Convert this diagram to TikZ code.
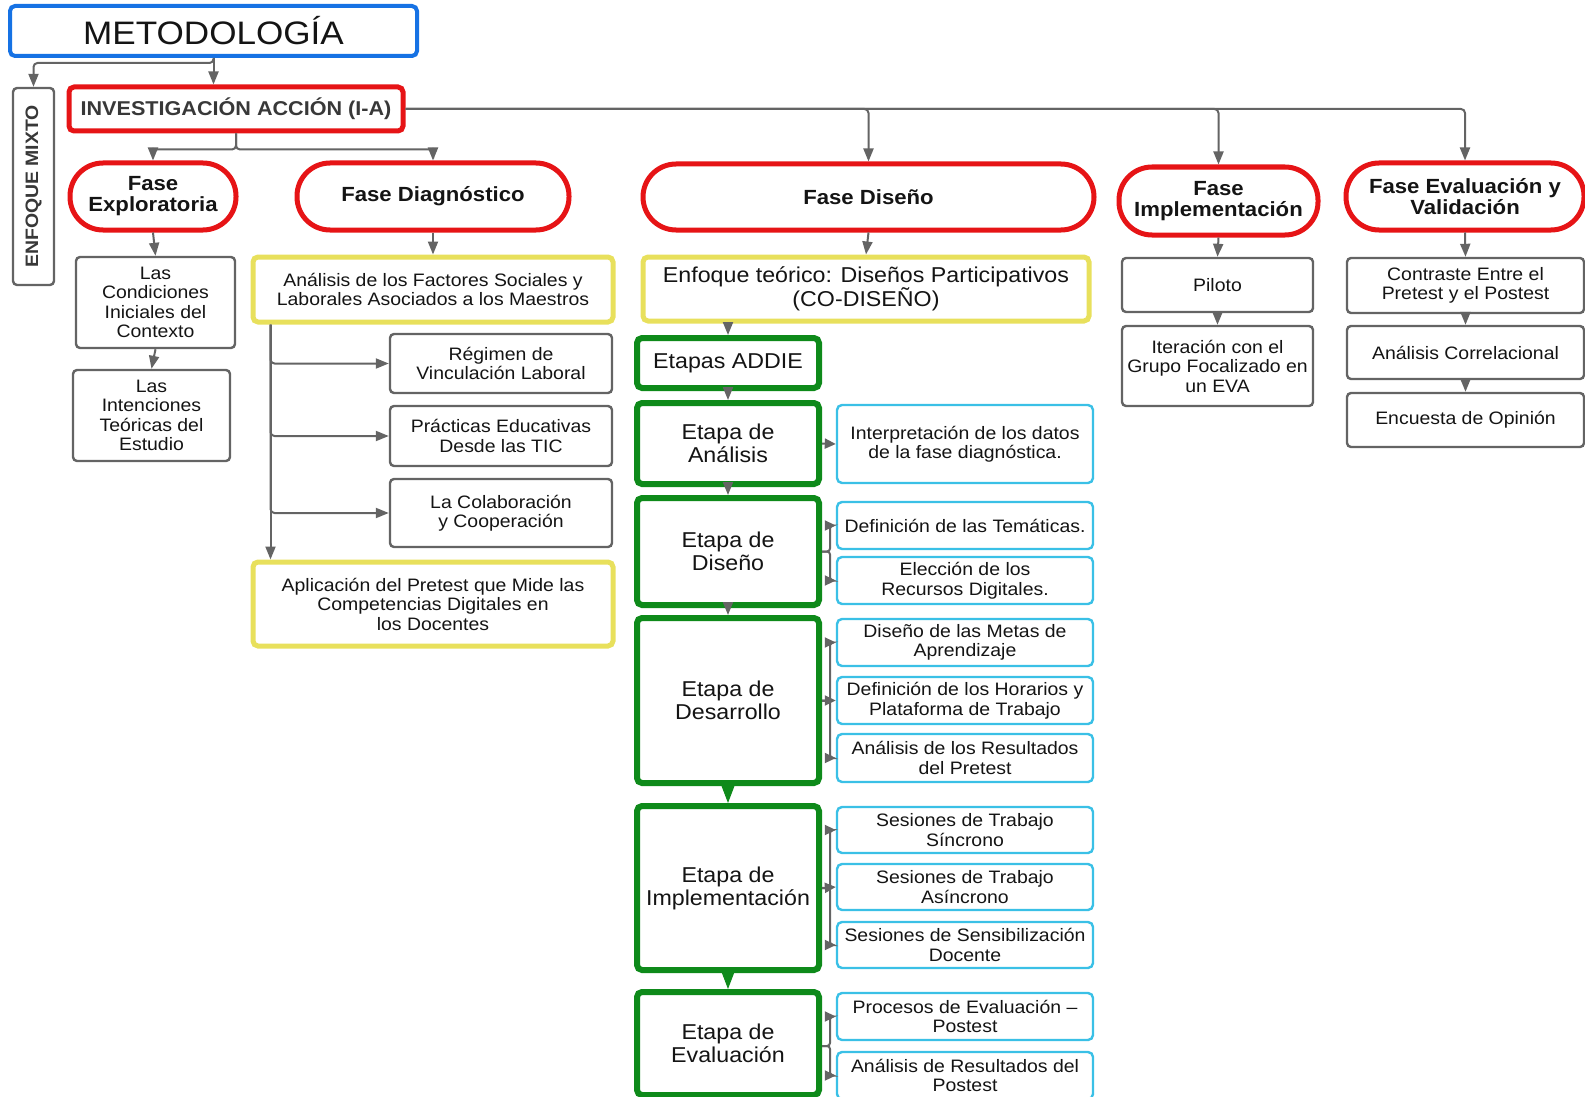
\documentclass[tikz,border=0pt]{standalone}
\usepackage{fontspec}
\setmainfont{Liberation Sans}[FakeStretch=1.08]
\usetikzlibrary{arrows.meta,positioning,calc}
\definecolor{azul}{RGB}{22,114,228}
\definecolor{rojo}{RGB}{230,20,22}
\definecolor{amarillo}{RGB}{232,224,92}
\definecolor{verde}{RGB}{14,138,26}
\definecolor{celeste}{RGB}{58,192,230}
\definecolor{gris}{RGB}{100,100,100}
\definecolor{texto}{RGB}{20,20,20}
\definecolor{oscuro}{RGB}{56,56,56}
\tikzset{
  caja/.style={rectangle, align=center, inner sep=2pt, text=texto, fill=white, font=\fontsize{18}{19.5}\selectfont},
  gbox/.style={caja, draw=gris, line width=2.4pt, rounded corners=4pt},
  ybox/.style={caja, draw=amarillo, line width=5pt, rounded corners=5pt},
  cbox/.style={caja, draw=celeste, line width=2.4pt, rounded corners=5pt, minimum width=256pt},
  etapa/.style={caja, draw=verde, line width=6pt, rounded corners=5pt, minimum width=182pt, font=\fontsize{21.5}{23}\selectfont},
  fase/.style={caja, draw=rojo, line width=5pt, rounded corners=33pt, font=\bfseries\fontsize{20.5}{21}\selectfont},
  arr/.style={draw=gris, line width=2pt, rounded corners=4pt, -{Triangle[length=13pt,width=10pt]}},
  brk/.style={draw=gris, line width=2pt, rounded corners=3pt, -{Triangle[length=11pt,width=10pt]}},
  garr/.style={draw=verde, line width=1pt, -{Triangle[length=20pt,width=15pt]}},
}

\begin{document}
\begin{tikzpicture}[x=1pt,y=-1pt]
\useasboundingbox (0,0) rectangle (1585,1097);
\node[caja, draw=azul, line width=4pt, rounded corners=5pt, minimum width=407pt, minimum height=50pt, font=\fontsize{32.5}{34}\selectfont] (meth) at (213.5,31) {METODOLOGÍA};
\node[gbox, rotate=90, minimum width=197pt, minimum height=41pt, text=oscuro, font=\bfseries\fontsize{18}{19.5}\selectfont] (mixto) at (33.5,186.5) {ENFOQUE MIXTO};
\node[caja, draw=rojo, line width=5pt, rounded corners=5pt, minimum width=334pt, minimum height=44pt, text=oscuro, font=\bfseries\fontsize{20}{21}\selectfont] (ia) at (236,109) {INVESTIGACIÓN ACCIÓN (I-A)};

\node[fase, minimum width=166pt, minimum height=67pt] (fexp) at (153,196.5) {Fase\\Exploratoria};
\node[fase, minimum width=272pt, minimum height=67pt] (fdia) at (433,196.5) {Fase Diagnóstico};
\node[fase, minimum width=451pt, minimum height=66pt] (fdis) at (868.5,197) {Fase Diseño};
\node[fase, minimum width=199pt, minimum height=68pt] (fimp) at (1218.5,201) {Fase\\Implementación};
\node[fase, minimum width=238pt, minimum height=67pt] (feva) at (1465,196.5) {Fase Evaluación y\\Validación};

\node[gbox, minimum width=159pt, minimum height=91pt] (exp1) at (155.5,302.5) {Las\\Condiciones\\Iniciales del\\Contexto};
\node[gbox, minimum width=157pt, minimum height=91pt] (exp2) at (151.5,415.5) {Las\\Intenciones\\Teóricas del\\Estudio};

\node[ybox, minimum width=360pt, minimum height=65pt] (dia1) at (433,289.5) {Análisis de los Factores Sociales y\\Laborales Asociados a los Maestros};
\node[gbox, minimum width=222pt, minimum height=59pt] (dia2) at (501,363.5) {Régimen de\\Vinculación Laboral};
\node[gbox, minimum width=222pt, minimum height=60pt] (dia3) at (501,436) {Prácticas Educativas\\Desde las TIC};
\node[gbox, minimum width=222pt, minimum height=68pt] (dia4) at (501,513) {La Colaboración\\y Cooperación};
\node[ybox, minimum width=360pt, minimum height=84pt] (dia5) at (433,604) {Aplicación del Pretest que Mide las\\Competencias Digitales en\\los Docentes};

\node[ybox, minimum width=446pt, minimum height=64pt, font=\fontsize{21.5}{23}\selectfont] (dis1) at (866,289) {Enfoque teórico: Diseños Participativos\\(CO-DISEÑO)};
\node[etapa, minimum height=50pt] (addie) at (728,363) {Etapas ADDIE};
\node[etapa, minimum height=81pt] (ean) at (728,443.5) {Etapa de\\Análisis};
\node[etapa, minimum height=107pt] (edi) at (728,551.5) {Etapa de\\Diseño};
\node[etapa, minimum height=165pt] (ede) at (728,700.5) {Etapa de\\Desarrollo};
\node[etapa, minimum height=164pt] (eim) at (728,888) {Etapa de\\Implementación};
\node[etapa, minimum height=103pt] (eev) at (728,1043.5) {Etapa de\\Evaluación};

\node[cbox, minimum height=78pt] (c1) at (965,444) {Interpretación de los datos\\de la fase diagnóstica.};
\node[cbox, minimum height=47pt] (c2) at (965,525.5) {Definición de las Temáticas.};
\node[cbox, minimum height=47pt] (c3) at (965,580.5) {Elección de los\\Recursos Digitales.};
\node[cbox, minimum height=47pt] (c4) at (965,642.5) {Diseño de las Metas de\\Aprendizaje};
\node[cbox, minimum height=47pt] (c5) at (965,700.5) {Definición de los Horarios y\\Plataforma de Trabajo};
\node[cbox, minimum height=48pt] (c6) at (965,758) {Análisis de los Resultados\\del Pretest};
\node[cbox, minimum height=46pt] (c7) at (965,830) {Sesiones de Trabajo\\Síncrono};
\node[cbox, minimum height=46pt] (c8) at (965,887) {Sesiones de Trabajo\\Asíncrono};
\node[cbox, minimum height=46pt] (c9) at (965,945) {Sesiones de Sensibilización\\Docente};
\node[cbox, minimum height=47pt] (c10) at (965,1016.5) {Procesos de Evaluación --\\Postest};
\node[cbox, minimum height=47pt] (c11) at (965,1075.5) {Análisis de Resultados del\\Postest};

\node[gbox, minimum width=191pt, minimum height=54pt] (imp1) at (1217.5,285) {Piloto};
\node[gbox, minimum width=191pt, minimum height=80pt] (imp2) at (1217.5,366) {Iteración con el\\Grupo Focalizado en\\un EVA};
\node[gbox, minimum width=237pt, minimum height=55pt] (eva1) at (1465.5,285.5) {Contraste Entre el\\Pretest y el Postest};
\node[gbox, minimum width=237pt, minimum height=53pt] (eva2) at (1465.5,352.5) {Análisis Correlacional};
\node[gbox, minimum width=237pt, minimum height=54pt] (eva3) at (1465.5,420) {Encuesta de Opinión};

\draw[arr] (meth.south) -- (meth.south |- ia.north);
\draw[arr] (meth.south) -- ++(0,5) -| (mixto.east);
\draw[arr] (ia.south) -- ++(0,16) -| (fexp.north);
\draw[arr] (ia.south) -- ++(0,16) -| (fdia.north);
\draw[arr] (ia.east) -| (fdis.north);
\draw[arr] (ia.east) -| (fimp.north);
\draw[arr] (ia.east) -| (feva.north);

\draw[arr] (fexp.south) -- (exp1.north);
\draw[arr] (exp1.south) -- (exp2.north);

\draw[arr] (fdia.south) -- (dia1.north);
\coordinate (tronco) at ([xshift=20pt]dia1.south west);
\draw[arr] (tronco) -- (tronco |- dia5.north);
\draw[arr] (tronco) |- (dia2.west);
\draw[arr] (tronco) |- (dia3.west);
\draw[arr] (tronco) |- (dia4.west);

\draw[arr] (fdis.south) -- (dis1.north);
\draw[arr] (dis1.south -| addie.north) -- (addie.north);
\draw[arr] (addie.south) -- (ean.north);
\draw[arr] (ean.south) -- (edi.north);
\draw[arr] (edi.south) -- (ede.north);
\draw[garr] (ede.south) -- (eim.north);
\draw[garr] (eim.south) -- (eev.north);

\draw[brk] (ean.east) -- (c1.west);
\draw[brk] (edi.east) -- ++(8,0) |- (c2.west);
\draw[brk] (edi.east) -- ++(8,0) |- (c3.west);
\draw[brk] (ede.east) -- ++(8,0) |- (c4.west);
\draw[brk] (ede.east) -- (c5.west);
\draw[brk] (ede.east) -- ++(8,0) |- (c6.west);
\draw[brk] (eim.east) -- ++(8,0) |- (c7.west);
\draw[brk] (eim.east) -- (c8.west);
\draw[brk] (eim.east) -- ++(8,0) |- (c9.west);
\coordinate (jev) at ($(c10.west)!0.5!(c11.west)$);
\draw[brk] (eev.east |- jev) -- ++(8,0) |- (c10.west);
\draw[brk] (eev.east |- jev) -- ++(8,0) |- (c11.west);

\draw[arr] (fimp.south) -- (imp1.north);
\draw[arr] (imp1.south) -- (imp2.north);
\draw[arr] (feva.south) -- (eva1.north);
\draw[arr] (eva1.south) -- (eva2.north);
\draw[arr] (eva2.south) -- (eva3.north);
\end{tikzpicture}
\end{document}
